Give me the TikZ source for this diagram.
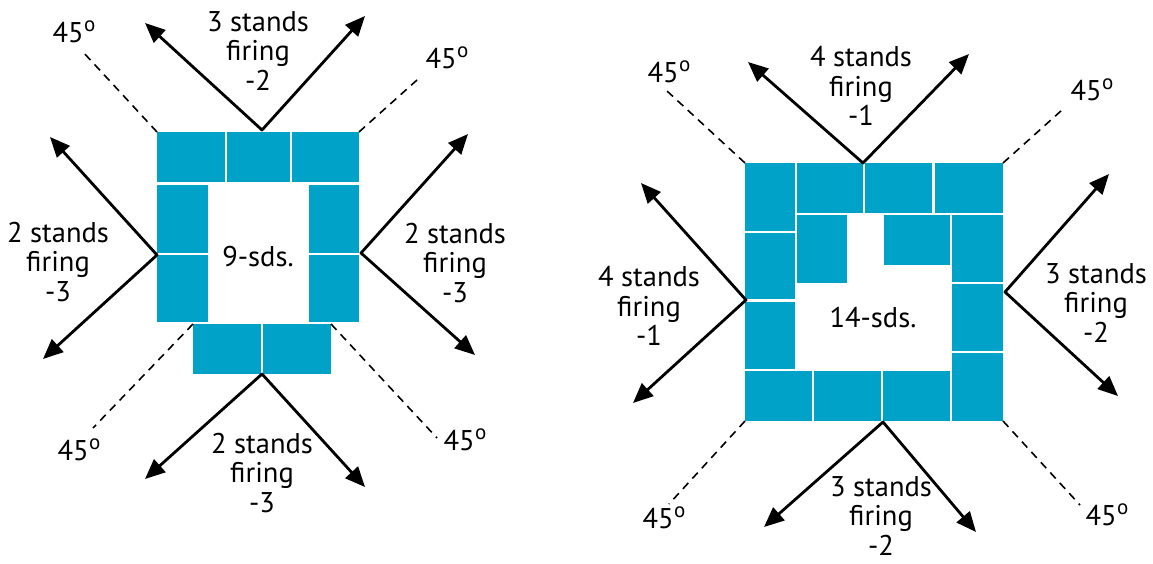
\documentclass[tikz,border=0pt]{standalone}
\usepackage{fontspec}
\setmainfont{PT Sans}
\usetikzlibrary{arrows.meta}
\definecolor{teal}{HTML}{00A2C7}
\newcommand{\blk}[5]{\node[blk, minimum width={(#4-#2)*1pt}, minimum height={(#5-#3)*1pt}] (#1) at ({(#2+#4)/2},{(#3+#5)/2}) {};}
\newcommand{\dg}{45\kern0.5pt\raisebox{11pt}{\fontsize{21}{21}\selectfont o}}
\tikzset{
  blk/.style={rectangle, fill=teal, draw=none, inner sep=0pt, outer sep=0pt},
  arr/.style={line width=2.8pt, -{Triangle[length=20pt,width=17pt]}, shorten <=-0.6pt},
  dsh/.style={line width=1.6pt, dash pattern=on 8pt off 6pt},
  lbl/.style={align=center, font=\fontsize{28.5}{29.5}\selectfont, inner sep=0pt},
  deg/.style={font=\fontsize{28.5}{30}\selectfont, inner sep=0pt}
}
\begin{document}
\begin{tikzpicture}[x=1pt,y=-1pt]
\useasboundingbox (0,0) rectangle (1153,563);
% ---------- left diagram blocks ----------
\blk{a1}{157}{132}{225}{182}
\blk{a2}{227}{132}{290}{182}
\blk{a3}{292}{132}{359}{182}
\blk{a4}{157}{185}{208}{253}
\blk{a5}{157}{255}{208}{322}
\blk{a6}{309}{185}{359}{253}
\blk{a7}{309}{255}{359}{322}
\blk{a8}{193}{324}{261}{374}
\blk{a9}{263}{324}{331}{374}
\node[lbl] (ac) at (258,257) {9-sds.};
% vertices and tips
\coordinate (avt) at (262,130);
\coordinate (avl) at (157,255);
\coordinate (avr) at (361,253);
\coordinate (avb) at (262,374);
\coordinate (at1) at (145,23);
\coordinate (at2) at (365,16);
\coordinate (al1) at (50,137);
\coordinate (al2) at (43,359);
\coordinate (ar1) at (468,134);
\coordinate (ar2) at (475,355);
\coordinate (ab1) at (145,479);
\coordinate (ab2) at (365,487);
\draw[arr] (avt) -- (at1);
\draw[arr] (avt) -- (at2);
\draw[arr] (avl) -- (al1);
\draw[arr] (avl) -- (al2);
\draw[arr] (avr) -- (ar1);
\draw[arr] (avr) -- (ar2);
\draw[arr] (avb) -- (ab1);
\draw[arr] (avb) -- (ab2);
% dashed
\coordinate (ad1) at (83,52);
\coordinate (ad2) at (417,80);
\coordinate (ad3) at (93,428);
\coordinate (ad4) at (437,438);
\draw[dsh] (a1.north west) -- (ad1);
\draw[dsh] (a3.north east) -- (ad2);
\draw[dsh] (a8.north west) -- (ad3);
\draw[dsh] (a9.north east) -- (ad4);
\node[deg] (ag1) at (74,32) {\dg};
\node[deg] (ag2) at (447,58) {\dg};
\node[deg] (ag3) at (79,450) {\dg};
\node[deg] (ag4) at (465,440) {\dg};
\node[lbl] (alt) at (258,51) {3 stands\\firing\\-2};
\node[lbl] (all) at (58,262) {2 stands\\firing\\-3};
\node[lbl] (alr) at (455,263) {2 stands\\firing\\-3};
\node[lbl] (alb) at (262,473) {2 stands\\firing\\-3};
% ---------- right diagram blocks ----------
\blk{b1}{745}{163}{795}{231}
\blk{b2}{745}{233}{795}{299}
\blk{b3}{745}{302}{795}{369}
\blk{b4}{797}{163}{863}{213}
\blk{b5}{865}{163}{932}{213}
\blk{b6}{935}{163}{1003}{213}
\blk{b7}{797}{215}{847}{283}
\blk{b8}{884}{215}{950}{265}
\blk{b9}{952}{215}{1003}{282}
\blk{b10}{952}{284}{1003}{351}
\blk{b11}{952}{353}{1003}{421}
\blk{b12}{745}{371}{812}{421}
\blk{b13}{814}{371}{881}{421}
\blk{b14}{883}{371}{950}{421}
\node[lbl] (bc) at (873,318) {14-sds.};
\coordinate (bvt) at (863,163);
\coordinate (bvl) at (746,300);
\coordinate (bvr) at (1005,292);
\coordinate (bvb) at (883,422);
\coordinate (bt1) at (748,62);
\coordinate (bt2) at (969,54);
\coordinate (bl1) at (641,183);
\coordinate (bl2) at (633,403);
\coordinate (br1) at (1109,174);
\coordinate (br2) at (1118,396);
\coordinate (bb1) at (764,527);
\coordinate (bb2) at (976,532);
\draw[arr] (bvt) -- (bt1);
\draw[arr] (bvt) -- (bt2);
\draw[arr] (bvl) -- (bl1);
\draw[arr] (bvl) -- (bl2);
\draw[arr] (bvr) -- (br1);
\draw[arr] (bvr) -- (br2);
\draw[arr] (bvb) -- (bb1);
\draw[arr] (bvb) -- (bb2);
\coordinate (bd1) at (667,91);
\coordinate (bd2) at (1062,110);
\coordinate (bd3) at (669,504);
\coordinate (bd4) at (1080,505);
\draw[dsh] (b1.north west) -- (bd1);
\draw[dsh] (b6.north east) -- (bd2);
\draw[dsh] (b12.south west) -- (bd3);
\draw[dsh] (b11.south east) -- (bd4);
\node[deg] (bg1) at (669,72) {\dg};
\node[deg] (bg2) at (1092,90) {\dg};
\node[deg] (bg3) at (664,518) {\dg};
\node[deg] (bg4) at (1107,515) {\dg};
\node[lbl] (blt) at (861,86) {4 stands\\firing\\-1};
\node[lbl] (bll) at (649,306) {4 stands\\firing\\-1};
\node[lbl] (blr) at (1096,303) {3 stands\\firing\\-2};
\node[lbl] (blb) at (881,516) {3 stands\\firing\\-2};
\end{tikzpicture}
\end{document}
